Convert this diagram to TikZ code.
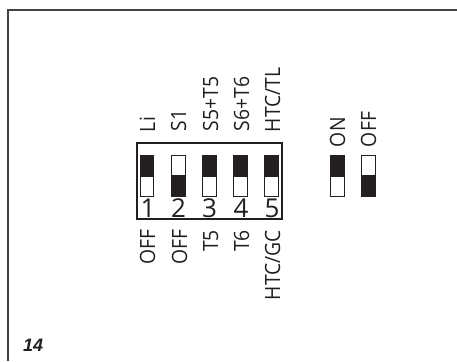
\documentclass[tikz,border=0pt]{standalone}
\usepackage{fontspec}
\setmainfont{Open Sans}
\newfontfamily\labelfont[FakeStretch=0.92]{Open Sans}
\newfontfamily\capfont{Liberation Sans}
\definecolor{ink}{HTML}{231F20}
\tikzset{
  x=1pt,y=-1pt,
  frameline/.style={draw=ink!85,line width=1.3pt},
  switchbox/.style={draw=ink,fill=white,line width=1pt,minimum width=13.5pt,minimum height=41pt,inner sep=0pt,outer sep=0pt,anchor=north},
  knob/.style={fill=ink,draw=ink,line width=1pt,minimum width=13.5pt,minimum height=21pt,inner sep=0pt,outer sep=0pt},
  toplabel/.style={rotate=90,anchor=base west,inner sep=0pt,outer sep=0pt,text=ink,font=\labelfont\fontsize{21}{23}\selectfont},
  botlabel/.style={rotate=90,anchor=base east,inner sep=0pt,outer sep=0pt,text=ink,font=\labelfont\fontsize{21}{23}\selectfont},
  digit/.style={anchor=base,inner sep=0pt,outer sep=0pt,text=ink,font=\fontsize{26}{28}\selectfont},
  housing/.style={draw=ink,line width=1.2pt,fill=none}
}
\newcommand{\swup}[2]{%
  \node[switchbox] (s#1) at (#2,155.5) {};
  \node[knob,anchor=north] (k#1) at (s#1.north) {};
}
\newcommand{\swdown}[2]{%
  \node[switchbox] (s#1) at (#2,155.5) {};
  \node[knob,anchor=south] (k#1) at (s#1.south) {};
}
\begin{document}
\begin{tikzpicture}
\useasboundingbox (0,0) rectangle (457,361);
\fill[white] (0,0) rectangle (457,361);
\coordinate (tr) at (457,10);
\coordinate (tl) at (8,10);
\coordinate (bl) at (8,361);
\draw[frameline] (tr) -- (tl) -- (bl);
\node[housing,minimum width=145pt,minimum height=76pt,inner sep=0pt] (box) at (209.5,181) {};
\swup{a}{147}
\swdown{b}{178.5}
\swup{c}{209.5}
\swup{d}{240.5}
\swup{e}{271.5}
\swup{on}{337.5}
\swdown{off}{368.5}
\node[digit] (n1) at (148,217) {1};
\node[digit] (n2) at (178.5,217) {2};
\node[digit] (n3) at (209.5,217) {3};
\node[digit] (n4) at (241,217) {4};
\node[digit] (n5) at (272,217) {5};
\node[toplabel] (t1) at (155,132) {Li};
\node[toplabel] (t2) at (186,131) {S1};
\node[toplabel] (t3) at (218,131) {S5+T5};
\node[toplabel] (t4) at (249,131) {S6+T6};
\node[toplabel] (t5) at (280,132) {HTC/TL};
\node[botlabel] (b1) at (155,230) {OFF};
\node[botlabel] (b2) at (187,230) {OFF};
\node[botlabel] (b3) at (218,230) {T5};
\node[botlabel] (b4) at (249,230) {T6};
\node[botlabel] (b5) at (280,230) {HTC/GC};
\node[toplabel] (on) at (345,147) {ON};
\node[toplabel] (off) at (376,147) {OFF};
\node[anchor=base west,inner sep=0pt,text=ink,font=\capfont\bfseries\itshape\fontsize{18}{20}\selectfont] (fig) at (23,351) {14};
\end{tikzpicture}
\end{document}
